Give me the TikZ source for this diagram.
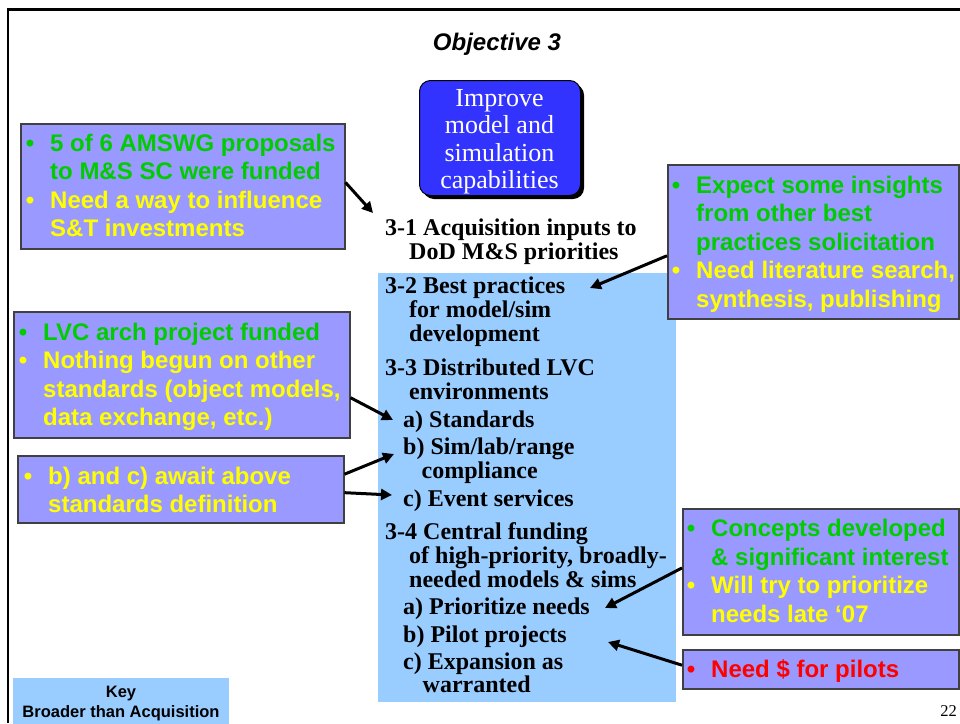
\documentclass[tikz,border=0pt]{standalone}
\usepackage{fontspec}
\setmainfont{Liberation Serif}
\newfontfamily\calloutfont{Liberation Sans}
\usetikzlibrary{arrows.meta,calc,shadows}

\definecolor{callfill}{HTML}{9999FF}
\definecolor{callline}{HTML}{404040}
\definecolor{keyblue}{HTML}{99CCFF}
\definecolor{goalblue}{HTML}{3333FF}
\definecolor{okgreen}{HTML}{00CC00}
\definecolor{warnyellow}{HTML}{FFFF00}
\definecolor{alertred}{HTML}{FF0000}

\newcommand{\callgreen}{\color{okgreen}}
\newcommand{\callyellow}{\color{warnyellow}}
\newcommand{\callred}{\color{alertred}}

\tikzset{
  callbox/.style={draw=callline, line width=1.5pt, fill=callfill, anchor=north west,
    inner sep=0pt, minimum width=#1},
  calltext/.style={anchor=base west, inner sep=0pt,
    font=\calloutfont\bfseries\fontsize{24}{28.5}\selectfont},
  itemtext/.style={anchor=base west, inner sep=0pt,
    font=\bfseries\fontsize{24}{24}\selectfont},
  conn/.style={line width=3pt, -{Triangle[length=11pt,width=11pt]}},
}

\begin{document}
\begin{tikzpicture}[x=1pt,y=-1pt]
\useasboundingbox (0,0) rectangle (960,723);

% slide frame
\draw[line width=2.5pt] (8,723) -- (8,9.5) -- (960,9.5);

% title
\node[anchor=base, inner sep=0pt, font=\calloutfont\bfseries\itshape\fontsize{24}{28}\selectfont]
  (title) at (497,50.5) {Objective 3};

% objective box
\node[anchor=north west, minimum width=161pt, minimum height=115pt, inner sep=0pt,
  rounded corners=11pt, fill=goalblue, draw=black, line width=1pt,
  drop shadow={shadow xshift=3.5pt, shadow yshift=-3.5pt, fill=black, opacity=1}]
  (goal) at (419,80) {};
\node[anchor=base, inner sep=0pt, text=white, font=\fontsize{26}{27.2}\selectfont]
  (goaltext) at (499.5,106.7)
  {\begin{tabular}[t]{@{}c@{}}Improve\\model and\\simulation\\capabilities\end{tabular}};

% area of tasks broader than acquisition
\node[anchor=north west, fill=keyblue, inner sep=0pt, minimum width=298pt, minimum height=429pt]
  (broad) at (378,273) {};

% task list
\node[itemtext] (t31) at (385,235.7)
  {\begin{tabular}[t]{@{}l@{}}3-1 Acquisition inputs to\\\hspace*{24pt}DoD M\&S priorities\end{tabular}};
\node[itemtext] (t32) at (385,293.3)
  {\begin{tabular}[t]{@{}l@{}}3-2 Best practices\\\hspace*{24pt}for model/sim\\\hspace*{24pt}development\end{tabular}};
\node[itemtext] (t33) at (385,375)
  {\begin{tabular}[t]{@{}l@{}}3-3 Distributed LVC\\\hspace*{24pt}environments\\[4pt]
   \hspace*{18pt}a) Standards\\[3.3pt]
   \hspace*{18pt}b) Sim/lab/range\\
   \hspace*{36.5pt}compliance\\[4pt]
   \hspace*{18pt}c) Event services\end{tabular}};
\node[itemtext] (t34) at (385,539.3)
  {\begin{tabular}[t]{@{}l@{}}3-4 Central funding\\\hspace*{24pt}of high-priority, broadly-\\
   \hspace*{24pt}needed models \& sims\\[2.6pt]
   \hspace*{18pt}a) Prioritize needs\\[4pt]
   \hspace*{18pt}b) Pilot projects\\[3.7pt]
   \hspace*{18pt}c) Expansion as\\[-1.3pt]
   \hspace*{37.5pt}warranted\end{tabular}};

% status callouts
\node[callbox=324pt, minimum height=125pt] (c1) at (20,123) {};
\node[calltext] (c1t) at (25.6,151)
  {\begin{tabular}[t]{@{}l@{\hspace{16pt}}l@{}}
   \callgreen\textbullet & \callgreen 5 of 6 AMSWG proposals\\
   & \callgreen to M\&S SC were funded\\
   \callyellow\textbullet & \callyellow Need a way to influence\\
   & \callyellow S\&T investments\end{tabular}};

\node[callbox=291pt, minimum height=154pt] (c2) at (667,164) {};
\node[calltext] (c2t) at (671.6,193)
  {\begin{tabular}[t]{@{}l@{\hspace{16pt}}l@{}}
   \callgreen\textbullet & \callgreen Expect some insights\\
   & \callgreen from other best\\
   & \callgreen practices solicitation\\
   \callyellow\textbullet & \callyellow Need literature search,\\
   & \callyellow synthesis, publishing\end{tabular}};

\node[callbox=336pt, minimum height=126pt] (c3) at (13,311) {};
\node[calltext] (c3t) at (18.6,340)
  {\begin{tabular}[t]{@{}l@{\hspace{16pt}}l@{}}
   \callgreen\textbullet & \callgreen LVC arch project funded\\
   \callyellow\textbullet & \callyellow Nothing begun on other\\
   & \callyellow standards (object models,\\
   & \callyellow data exchange, etc.)\end{tabular}};

\node[callbox=326pt, minimum height=67pt] (c4) at (17,455) {};
\node[calltext] (c4t) at (23.6,484.5)
  {\begin{tabular}[t]{@{}l@{\hspace{16pt}}l@{}}
   \callyellow\textbullet & \callyellow b) and c) await above\\[-0.8pt]
   & \callyellow standards definition\end{tabular}};

\node[callbox=276pt, minimum height=126pt] (c5) at (682,508) {};
\node[calltext] (c5t) at (686.6,536.5)
  {\begin{tabular}[t]{@{}l@{\hspace{16pt}}l@{}}
   \callgreen\textbullet & \callgreen Concepts developed\\
   & \callgreen \& significant interest\\
   \callyellow\textbullet & \callyellow Will try to prioritize\\
   & \callyellow needs late ‘07\end{tabular}};

\node[callbox=276pt, minimum height=39pt] (c6) at (682,649) {};
\node[calltext] (c6t) at (686.6,677)
  {\begin{tabular}[t]{@{}l@{\hspace{16pt}}l@{}}
   \callred\textbullet & \callred Need \$ for pilots\end{tabular}};

% arrow targets next to the task lines
\coordinate (p31) at (373,213);
\coordinate (p32) at (590,288);
\coordinate (p33a) at (393,420);
\coordinate (p33b) at (394,454);
\coordinate (p33c) at (392,495);
\coordinate (p34a) at (605,608);
\coordinate (p34b) at (608,642);

\draw[conn] ($(c1.north east)!0.47!(c1.south east)$) -- (p31);
\draw[conn] ($(c2.north west)!0.59!(c2.south west)$) -- (p32);
\draw[conn] ($(c3.north east)!0.68!(c3.south east)$) -- (p33a);
\draw[conn] ($(c4.north east)!0.28!(c4.south east)$) -- (p33b);
\draw[conn] ($(c4.north east)!0.55!(c4.south east)$) -- (p33c);
\draw[conn] ($(c5.north west)!0.47!(c5.south west)$) -- (p34a);
\draw[conn] ($(c6.north west)!0.4!(c6.south west)$) -- (p34b);

% key
\node[anchor=north west, fill=keyblue, inner sep=0pt, minimum width=216pt, minimum height=46pt]
  (key) at (13,678) {};
\node[anchor=base, inner sep=0pt, font=\calloutfont\bfseries\fontsize{16.5}{19.6}\selectfont]
  (keytext) at (121,697.7)
  {\begin{tabular}[t]{@{}c@{}}Key\\Broader than Acquisition\end{tabular}};

% page number
\node[anchor=base east, inner sep=0pt, font=\fontsize{16.5}{18}\selectfont] (pagenum) at (957,716) {22};
\end{tikzpicture}
\end{document}
